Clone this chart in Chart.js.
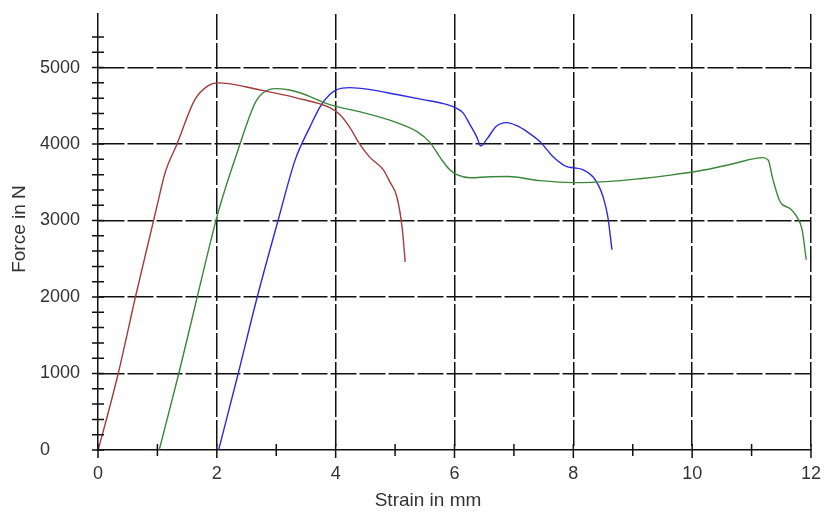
<!DOCTYPE html>
<html><head><meta charset="utf-8">
<script src="https://cdn.jsdelivr.net/npm/chart.js@4/dist/chart.umd.min.js"></script>
<style>html,body{margin:0;padding:0;background:#fff}#wrap{width:824px;height:512px}</style>
</head><body><div id="wrap"><canvas id="c" width="824" height="512"></canvas></div>
<script>
const xTitle = 'Strain in mm';
const yTitle = 'Force in N';
const xTickLabels = ['0','2','4','6','8','10','12'];
const yTickLabels = ['0','1000','2000','3000','4000','5000'];

const redX = [0, 0.08, 0.34, 0.63, 0.99, 1.13, 1.33, 1.63, 1.85, 2.02, 2.2, 2.6, 2.86, 3.32, 3.9, 4.07, 4.24, 4.41, 4.58, 4.8, 4.91, 5.03, 5.12, 5.17];
const redY = [0, 220, 1000, 2000, 3180, 3625, 4000, 4580, 4760, 4800, 4790, 4730, 4686, 4607, 4476, 4385, 4215, 3992, 3822, 3665, 3508, 3311, 2900, 2460];

const greenX = [1.03, 1.36, 1.67, 2.02, 2.39, 2.55, 2.66, 2.78, 2.98, 3.2, 3.4, 3.9, 4.46, 5.03, 5.37, 5.59, 5.76, 5.92, 6.04, 6.26, 6.6, 6.9, 7.44, 8.0, 8.67, 9.12, 9.6, 10.13, 10.69, 11.19, 11.28, 11.36, 11.48, 11.65, 11.76, 11.85, 11.92];
const greenY = [0, 1000, 2000, 3100, 4000, 4360, 4560, 4670, 4725, 4710, 4670, 4516, 4411, 4280, 4162, 4018, 3822, 3665, 3600, 3560, 3573, 3575, 3521, 3495, 3515, 3547, 3590, 3650, 3743, 3822, 3790, 3534, 3246, 3154, 3050, 2880, 2487];

const blueX = [2.03, 2.36, 2.68, 3.03, 3.32, 3.57, 3.74, 3.9, 4.02, 4.24, 4.58, 5.03, 5.47, 5.81, 6.01, 6.14, 6.26, 6.38, 6.44, 6.55, 6.7, 6.88, 7.05, 7.22, 7.44, 7.66, 7.89, 8.0, 8.16, 8.33, 8.43, 8.5, 8.58, 8.65];
const blueY = [0, 1000, 2000, 3000, 3796, 4228, 4490, 4647, 4712, 4738, 4712, 4647, 4581, 4529, 4476, 4411, 4254, 4084, 3975, 4070, 4230, 4280, 4240, 4162, 4031, 3835, 3704, 3690, 3665, 3573, 3450, 3311, 3050, 2618];

const toPts = (xs, ys) => xs.map((x, i) => ({x, y: ys[i]}));

const FONT = {family: '"Liberation Sans", Arial, sans-serif', size: 18};
const TITLE_SIZE = 19;
const INK = '#111';
const TXT = '#333';

const axisDecor = {
  id: 'axisDecor',
  afterDatasetsDraw(chart) {
    const {ctx, scales: {x, y}} = chart;
    ctx.save();
    ctx.strokeStyle = INK;
    ctx.lineWidth = 1.5;
    ctx.beginPath();
    const ax = x.getPixelForValue(0);
    y.ticks.forEach(t => {
      if (t.value % 200 !== 0) return;
      const py = y.getPixelForValue(t.value);
      ctx.moveTo(ax - 6, py); ctx.lineTo(ax + 6, py);
    });
    const ay = y.getPixelForValue(0);
    x.ticks.forEach(t => {
      const px = x.getPixelForValue(t.value);
      ctx.moveTo(px, ay - 6); ctx.lineTo(px, ay + (t.value % 2 === 0 ? 8 : 6));
    });
    ctx.stroke();
    ctx.fillStyle = TXT;
    ctx.font = TITLE_SIZE + 'px ' + FONT.family;
    ctx.textAlign = 'center';
    ctx.textBaseline = 'middle';
    ctx.fillText(xTitle, 428, 501);
    ctx.translate(20, 229);
    ctx.rotate(-Math.PI / 2);
    ctx.fillText(yTitle, 0, 0);
    ctx.restore();
  }
};

new Chart(document.getElementById('c'), {
  type: 'scatter',
  data: {
    datasets: [
      {data: toPts(redX, redY), borderColor: '#a33c3c'},
      {data: toPts(greenX, greenY), borderColor: '#3a873a'},
      {data: toPts(blueX, blueY), borderColor: '#2a2ae0'}
    ].map(d => Object.assign(d, {showLine: true, pointRadius: 0, borderWidth: 1.4, cubicInterpolationMode: 'monotone', fill: false}))
  },
  options: {
    responsive: false,
    animation: false,
    devicePixelRatio: 1,
    layout: {padding: {left: 40, right: 13, top: 14, bottom: 0}},
    plugins: {legend: {display: false}, tooltip: {enabled: false}},
    scales: {
      x: {
        type: 'linear', min: 0, max: 12,
        ticks: {stepSize: 1, autoSkip: false, maxRotation: 0, padding: 13, font: FONT, color: TXT,
          callback: v => xTickLabels.includes(String(v)) ? String(v) : ''},
        grid: {drawTicks: false, lineWidth: 1.5,
          color: c => (c.tick && c.tick.value > 0 && c.tick.value % 2 === 0) ? INK : 'rgba(0,0,0,0)'},
        border: {display: true, color: INK, width: 1.5, dash: [26, 3]},
        afterFit: s => { s.height = 62; s.paddingLeft = 0; s.paddingRight = 0; }
      },
      y: {
        type: 'linear', min: 0, max: 5700,
        ticks: {stepSize: 200, autoSkip: false, crossAlign: 'far', font: FONT, color: TXT,
          callback: v => yTickLabels.includes(String(v)) ? String(v) : ''},
        grid: {drawTicks: false, lineWidth: 1.5,
          color: c => (c.tick && c.tick.value > 0 && c.tick.value % 1000 === 0) ? INK : 'rgba(0,0,0,0)'},
        border: {display: true, color: INK, width: 1.5, dash: [26, 3]},
        afterFit: s => { s.width = 58; s.paddingTop = 0; s.paddingBottom = 0; }
      }
    }
  },
  plugins: [axisDecor]
});
</script></body></html>
